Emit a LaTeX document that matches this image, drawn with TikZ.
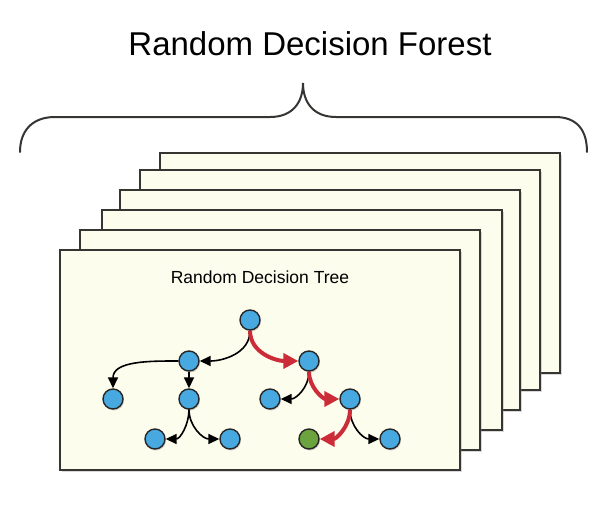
\documentclass[tikz,border=0pt]{standalone}
\usepackage{fontspec}
\setmainfont{Liberation Sans}
\usetikzlibrary{arrows.meta,shadows}
\definecolor{paper}{HTML}{FDFDEE}
\definecolor{frame}{HTML}{353532}
\definecolor{nodeblue}{HTML}{48A9E0}
\definecolor{leafgreen}{HTML}{6BA33E}
\definecolor{pathred}{HTML}{CC2B38}

\begin{document}
\begin{tikzpicture}[x=1pt,y=-1pt,
    page/.style={draw=frame,line width=2pt,fill=paper,
        drop shadow={opacity=0.3,shadow xshift=2pt,shadow yshift=-2pt}},
    brace/.style={draw=frame,line width=2pt,line cap=round},
    dnode/.style={circle,draw=black!85,line width=1.4pt,fill=nodeblue,
        minimum size=20pt,inner sep=0pt,
        drop shadow={opacity=0.35,shadow xshift=1pt,shadow yshift=-1.5pt}},
    leaf/.style={dnode,fill=leafgreen},
    arr/.style={draw=black,line width=1.6pt,-{Triangle[length=11pt,width=10pt]}},
    hot/.style={draw=pathred,line width=4pt,-{Triangle[length=15pt,width=15pt]}}]
    \useasboundingbox (0,0) rectangle (614,514);

    % title and brace
    \node[anchor=base,font=\fontsize{33}{40}\selectfont] (forest) at (310,55) {Random Decision Forest};
    \draw[brace] (20,152) .. controls (20,130) and (33,117) .. (55,117) -- (270,117)
        .. controls (293,117) and (303,102) .. (303,83)
        .. controls (303,102) and (313,117) .. (336,117) -- (555,117)
        .. controls (577,117) and (587,130) .. (587,152);

    % stack of pages, back to front
    \foreach \x/\y in {160/153,140/170,120/190,102/210,80/230,60/250}
        \draw[page] (\x,\y) rectangle ++(400,220);

    \node[anchor=base,font=\fontsize{17.5}{21}\selectfont] (tree) at (260,283) {Random Decision Tree};

    % the tree
    \node[dnode] (root) at (250,320) {};
    \node[dnode] (a) at (189,361) {};
    \node[dnode] (b) at (309,361) {};
    \node[dnode] (aa) at (113,399) {};
    \node[dnode] (ab) at (189,399) {};
    \node[dnode] (ba) at (270,399) {};
    \node[dnode] (bb) at (350,399) {};
    \node[dnode] (aba) at (155,439) {};
    \node[dnode] (abb) at (230,439) {};
    \node[leaf] (bba) at (309,439) {};
    \node[dnode] (bbb) at (390,439) {};

    \draw[arr] (root.south) to[out=-90,in=0] (a.east);
    \draw[arr] (a.west) to[out=180,in=90] (aa.north);
    \draw[arr] (a) -- (ab);
    \draw[arr] (ab.south) to[out=-90,in=0] (aba.east);
    \draw[arr] (ab.south) to[out=-90,in=180] (abb.west);
    \draw[arr] (b.south) to[out=-90,in=0] (ba.east);
    \draw[arr] (bb.south) to[out=-90,in=180] (bbb.west);
    % decision path
    \draw[hot] (root.south) to[out=-90,in=180] (b.west);
    \draw[hot] (b.south) to[out=-90,in=180] (bb.west);
    \draw[hot] (bb.south) to[out=-90,in=0] (bba.east);
\end{tikzpicture}
\end{document}
